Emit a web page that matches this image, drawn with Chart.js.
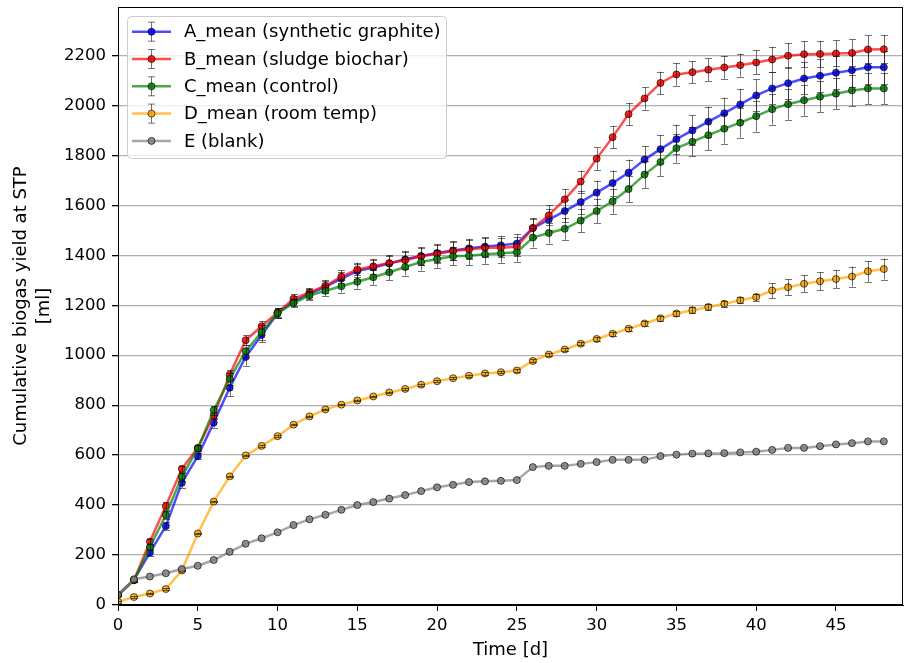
<!DOCTYPE html>
<html>
<head>
<meta charset="utf-8">
<script src="https://cdn.jsdelivr.net/npm/chart.js@4.4.0/dist/chart.umd.min.js"></script>
<style>
  html, body { margin: 0; padding: 0; background: #fff; }
  canvas { display: block; }
</style>
</head>
<body>
<canvas id="biogasChart" width="908" height="663"></canvas>
<script>
// sampling days
const days = [0,1,2,3,4,5,6,7,8,9,10,11,12,13,14,15,16,17,18,19,20,21,22,23,24,
  25,26,27,28,29,30,31,32,33,34,35,36,37,38,39,40,41,42,43,44,45,46,47,48];

const xTicks = [0, 5, 10, 15, 20, 25, 30, 35, 40, 45];
const yTicks = [0, 200, 400, 600, 800, 1000, 1200, 1400, 1600, 1800, 2000, 2200];

const labels = [
  'A_mean (synthetic graphite)',
  'B_mean (sludge biochar)',
  'C_mean (control)',
  'D_mean (room temp)',
  'E (blank)'
];

// cumulative biogas yield [ml]
const aMean = [40,101,210,316,489,596,730,870,993,1081,1167,1216,1246,1274,1307,1337,1351,1367,1384,1397,
  1409,1419,1428,1435,1440,1447,1509,1543,1577,1613,1651,1689,1731,1783,1825,1865,1900,1935,1969,2004,
  2040,2068,2089,2108,2119,2131,2141,2153,2153];
const bMean = [40,99,254,396,545,629,759,922,1060,1116,1171,1226,1251,1278,1315,1343,1356,1369,1380,1396,
  1406,1417,1423,1430,1430,1434,1509,1560,1624,1695,1787,1873,1965,2028,2090,2124,2133,2143,2152,2161,
  2172,2184,2199,2205,2206,2208,2210,2224,2225];
const cMean = [40,99,232,360,513,627,780,905,1016,1092,1168,1209,1239,1258,1276,1294,1312,1332,1353,1373,
  1385,1396,1398,1404,1408,1412,1471,1489,1506,1539,1577,1616,1665,1723,1773,1829,1855,1881,1907,1931,
  1957,1985,2005,2021,2035,2047,2060,2068,2068];
const dMean = [13,32,46,64,138,286,414,515,599,637,676,722,755,783,802,819,835,851,865,882,
  896,908,918,927,932,939,977,1003,1023,1046,1065,1086,1106,1127,1148,1167,1180,1193,1206,1220,
  1233,1259,1272,1286,1296,1305,1315,1336,1345];
const eBlank = [40,103,114,127,144,157,180,213,245,267,291,320,343,361,381,400,412,426,440,456,
  471,481,492,495,497,500,552,557,557,565,572,581,581,581,596,602,606,607,608,611,
  614,621,629,629,636,643,648,655,655];

// standard deviations [ml]
const aErr = [5,8,15,15,20,12,20,35,35,30,20,20,20,25,28,30,32,32,34,35,36,37,38,38,38,38,40,42,44,46,
  48,50,52,54,56,58,60,60,62,62,64,64,64,64,66,66,66,66,66];
const bErr = [5,8,12,15,12,10,15,20,20,20,18,18,18,22,25,28,30,32,34,34,35,36,38,38,38,38,38,40,42,44,
  45,45,45,45,45,45,45,45,45,46,48,50,50,52,52,52,54,56,56];
const cErr = [5,8,12,15,15,12,18,25,25,30,20,18,18,22,25,28,30,32,34,34,35,36,38,38,38,38,40,42,44,46,
  48,50,52,54,56,58,58,60,60,60,62,62,62,62,62,62,62,62,62];
const dErr = [3,3,3,3,3,3,3,3,3,3,3,3,3,3,3,3,3,3,4,4,4,4,4,5,5,5,6,6,6,7,
  8,8,8,9,10,10,11,12,12,12,14,30,32,34,36,36,40,42,42];

const FONT = 'DejaVu Sans';
const TICK_FS = 16.5;
const LABEL_FS = 18;

function series(label, values, errors, rgb, order) {
  return {
    label,
    data: values.map((v, i) => ({ x: days[i], y: v })),
    errors,
    order,
    borderColor: `rgba(${rgb},0.7)`,
    backgroundColor: `rgba(${rgb},0.85)`,
    pointBackgroundColor: `rgba(${rgb},0.85)`,
    pointBorderColor: 'rgba(0,0,0,0.65)',
    pointBorderWidth: 1,
    pointRadius: 3.5,
    borderWidth: 2.5,
    tension: 0,
    fill: false
  };
}

// vertical error bars with caps
const errorBars = {
  id: 'errorBars',
  afterDatasetDraw(chart, args) {
    const ds = chart.data.datasets[args.index];
    if (!ds.errors) return;
    const { ctx, chartArea, scales: { x, y } } = chart;
    ctx.save();
    ctx.beginPath();
    ctx.rect(chartArea.left, chartArea.top, chartArea.right - chartArea.left, chartArea.bottom - chartArea.top);
    ctx.clip();
    ctx.strokeStyle = 'rgba(0,0,0,0.55)';
    ctx.lineWidth = 1;
    ds.data.forEach((p, i) => {
      const e = ds.errors[i];
      const px = Math.round(x.getPixelForValue(p.x)) + 0.5;
      const top = y.getPixelForValue(p.y + e);
      const bot = y.getPixelForValue(p.y - e);
      ctx.beginPath();
      ctx.moveTo(px, top); ctx.lineTo(px, bot);
      ctx.moveTo(px - 3.5, Math.round(top) + 0.5); ctx.lineTo(px + 3.5, Math.round(top) + 0.5);
      ctx.moveTo(px - 3.5, Math.round(bot) + 0.5); ctx.lineTo(px + 3.5, Math.round(bot) + 0.5);
      ctx.stroke();
    });
    ctx.restore();
  }
};

// top and right spines
const frame = {
  id: 'frame',
  afterDraw(chart) {
    const { ctx, chartArea: a } = chart;
    ctx.save();
    ctx.strokeStyle = '#000';
    ctx.lineWidth = 1;
    ctx.strokeRect(Math.round(a.left) + 0.5, Math.round(a.top) + 0.5,
      Math.round(a.right - a.left) - 1, Math.round(a.bottom - a.top) - 1);
    ctx.restore();
  }
};

// matplotlib-like legend in the upper left corner
const boxLegend = {
  id: 'boxLegend',
  afterDraw(chart) {
    const { ctx, chartArea } = chart;
    const x0 = chartArea.left + 9, y0 = chartArea.top + 9, w = 319, h = 142;
    ctx.save();
    ctx.beginPath();
    ctx.roundRect(x0 + 0.5, y0 + 0.5, w, h, 4);
    ctx.fillStyle = 'rgba(255,255,255,0.8)';
    ctx.fill();
    ctx.strokeStyle = '#cccccc';
    ctx.lineWidth = 1;
    ctx.stroke();
    ctx.font = `${LABEL_FS}px "${FONT}"`;
    ctx.textBaseline = 'middle';
    ctx.textAlign = 'left';
    chart.data.datasets.forEach((ds, i) => {
      const cy = y0 + 15.7 + i * 27.3;
      const mx = x0 + 24.5;
      ctx.strokeStyle = ds.borderColor;
      ctx.lineWidth = 2.5;
      ctx.beginPath();
      ctx.moveTo(x0 + 5, cy); ctx.lineTo(x0 + 44, cy);
      ctx.stroke();
      if (ds.errors) {
        ctx.strokeStyle = 'rgba(0,0,0,0.55)';
        ctx.lineWidth = 1;
        ctx.beginPath();
        ctx.moveTo(mx, cy - 9.5); ctx.lineTo(mx, cy + 9.5);
        ctx.moveTo(mx - 3.5, cy - 9.5); ctx.lineTo(mx + 3.5, cy - 9.5);
        ctx.moveTo(mx - 3.5, cy + 9.5); ctx.lineTo(mx + 3.5, cy + 9.5);
        ctx.stroke();
      }
      ctx.beginPath();
      ctx.arc(mx, cy, 3.5, 0, Math.PI * 2);
      ctx.fillStyle = ds.pointBackgroundColor;
      ctx.fill();
      ctx.strokeStyle = ds.pointBorderColor;
      ctx.lineWidth = 1;
      ctx.stroke();
      ctx.fillStyle = '#000';
      ctx.fillText(ds.label, x0 + 57, cy + 1);
    });
    ctx.restore();
  }
};

// keep the plot box where the reference has it
function noPad(s) {
  s.paddingLeft = 0; s.paddingRight = 0; s.paddingTop = 0; s.paddingBottom = 0;
}

Chart.defaults.font.family = FONT;
Chart.defaults.font.size = TICK_FS;
Chart.defaults.color = '#000';

new Chart(document.getElementById('biogasChart'), {
  type: 'line',
  data: {
    datasets: [
      series(labels[0], aMean, aErr, '0,0,255', 4),
      series(labels[1], bMean, bErr, '255,0,0', 3),
      series(labels[2], cMean, cErr, '0,128,0', 2),
      series(labels[3], dMean, dErr, '255,165,0', 1),
      series(labels[4], eBlank, null, '128,128,128', 0)
    ]
  },
  options: {
    responsive: false,
    animation: false,
    layout: { padding: { top: 7, right: 2, left: 0, bottom: 0 } },
    plugins: { legend: { display: false }, tooltip: { enabled: false } },
    scales: {
      x: {
        type: 'linear',
        min: 0,
        max: 49.2,
        afterBuildTicks: s => { s.ticks = xTicks.map(v => ({ value: v })); },
        afterFit: s => { s.height = 58; noPad(s); },
        grid: { drawOnChartArea: false, tickLength: 6, tickColor: '#000' },
        border: { color: '#000', width: 1 },
        ticks: { padding: 5, maxRotation: 0, color: '#000', callback: v => String(v) },
        title: {
          display: true,
          text: 'Time [d]',
          font: { size: LABEL_FS },
          padding: { top: 0, bottom: 2 },
          color: '#000'
        }
      },
      y: {
        min: 0,
        max: 2394,
        afterBuildTicks: s => { s.ticks = yTicks.map(v => ({ value: v })); },
        afterFit: s => { s.width = 118; noPad(s); },
        grid: { color: '#b0b0b0', lineWidth: 1.3, tickLength: 6, tickColor: '#000' },
        border: { color: '#000', width: 1 },
        ticks: { padding: 6, color: '#000', callback: v => String(v) },
        title: {
          display: true,
          text: ['Cumulative biogas yield at STP', '[ml]'],
          font: { size: LABEL_FS, lineHeight: 1.28 },
          padding: { top: 9.5, bottom: 0 },
          color: '#000'
        }
      }
    }
  },
  plugins: [errorBars, frame, boxLegend]
});
</script>
</body>
</html>
